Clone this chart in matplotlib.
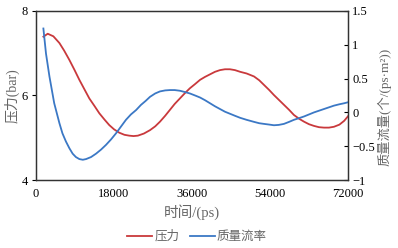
import matplotlib
matplotlib.use("Agg")
import matplotlib.pyplot as plt

plt.rcParams['font.family'] = ['Liberation Serif', 'Noto Sans CJK SC']

# pressure (bar), left axis
t_p = [1700, 2700, 4000, 5400, 6500, 7700, 8900, 10000, 11200, 12300, 13500,
       14600, 15800, 16900, 18000, 19200, 20400, 21500, 22500, 23500,
       24900, 26300, 27500, 28600, 29800, 30900, 32000, 33200, 34400, 35500,
       36700, 37850, 39000, 40150, 41300, 42450, 43600, 44750, 45900, 47100,
       48600, 50300, 51500, 52600, 53800, 54900, 56000, 57200, 58400, 59500,
       60700, 61850, 63000, 64150, 65300, 66450, 67600, 68750, 70000, 71100, 72000]
pressure = [7.39, 7.46, 7.40, 7.24, 7.06, 6.84, 6.60, 6.37, 6.14, 5.93, 5.75,
            5.58, 5.43, 5.30, 5.20, 5.12, 5.07, 5.05, 5.04, 5.05,
            5.10, 5.18, 5.27, 5.38, 5.52, 5.66, 5.80, 5.93, 6.06, 6.17,
            6.27, 6.37, 6.44, 6.50, 6.56, 6.60, 6.62, 6.62, 6.60, 6.56,
            6.52, 6.45, 6.36, 6.25, 6.13, 6.01, 5.90, 5.78, 5.66, 5.54,
            5.45, 5.38, 5.32, 5.28, 5.25, 5.24, 5.24, 5.26, 5.31, 5.40, 5.51]

# mass flow rate, right axis
t_q = [1700, 2300, 3100, 4200, 5400, 6100, 6900, 7700, 8450, 9200, 10000,
       10800, 11550, 12700, 13850, 15000, 16150, 17300, 18450, 19600, 20750,
       21900, 23100, 24200, 25300, 26300, 27500, 28600, 29800, 30900, 32000,
       33200, 34400, 35500, 36700, 37850, 39000, 40150, 41300, 42450, 43600,
       44750, 45900, 47100, 48600, 50300, 51500, 52600, 53800, 54900, 56000,
       57200, 58400, 59500, 60700, 61850, 63000, 64150, 65300, 66450, 67600,
       68750, 70000, 71100, 72000]
flow = [1.24, 0.87, 0.53, 0.135, -0.16, -0.31, -0.43, -0.53, -0.61, -0.66, -0.69,
        -0.70, -0.69, -0.66, -0.61, -0.55, -0.48, -0.40, -0.31, -0.21, -0.11,
        -0.03, 0.035, 0.11, 0.17, 0.23, 0.28, 0.31, 0.325, 0.33, 0.33,
        0.32, 0.30, 0.28, 0.25, 0.22, 0.18, 0.135, 0.09, 0.05, 0.01,
        -0.02, -0.05, -0.08, -0.11, -0.14, -0.16, -0.17, -0.18, -0.19, -0.185,
        -0.17, -0.14, -0.11, -0.085, -0.06, -0.03, 0.0, 0.025, 0.05, 0.075,
        0.10, 0.12, 0.135, 0.15]

red = '#c9393c'
blue = '#3b78c5'
gray = '#666666'

fig = plt.figure(figsize=(3.98, 2.48), dpi=100)
ax = fig.add_axes([0.0905, 0.274, 0.784, 0.682])
ax2 = ax.twinx()

l1, = ax.plot(t_p, pressure, color=red, lw=1.3, label='压力')
l2, = ax2.plot(t_q, flow, color=blue, lw=1.3, label='质量流率')

ax.set_xlim(0, 72000)
ax.set_ylim(4, 8)
ax.set_xticks([0, 18000, 36000, 54000, 72000])
ax.set_yticks([4, 6, 8])
ax2.set_ylim(-1, 1.5)
ax2.set_yticks([-1, -0.5, 0, 0.5, 1, 1.5])
ax2.set_yticklabels(['\u22121', '\u22120.5', '0', '0.5', '1', '1.5'])

ax.tick_params(axis='x', length=0, labelsize=9, pad=6)
ax.tick_params(axis='y', direction='out', length=3, labelsize=9, pad=3)
ax2.tick_params(axis='y', direction='in', length=3, labelsize=9, pad=3)

for a in (ax, ax2):
    for s in a.spines.values():
        s.set_color('#333333')
        s.set_linewidth(0.9)

ax.set_xlabel('时间/(ps)', fontsize=10.5, color=gray, labelpad=3)
ax.set_ylabel('压力(bar)', fontsize=10, color=gray, labelpad=1)
ax2.set_ylabel('质量流量(个/(ps·m²))', fontsize=9.5, color=gray, labelpad=2, y=0.43)

fig.legend(handles=[l1, l2], loc='center', bbox_to_anchor=(0.495, 0.045), ncol=2,
           frameon=False, fontsize=9, handlelength=2.0, handletextpad=0.2,
           columnspacing=0.8, labelcolor=gray)

fig.savefig('out.png', dpi=100)
